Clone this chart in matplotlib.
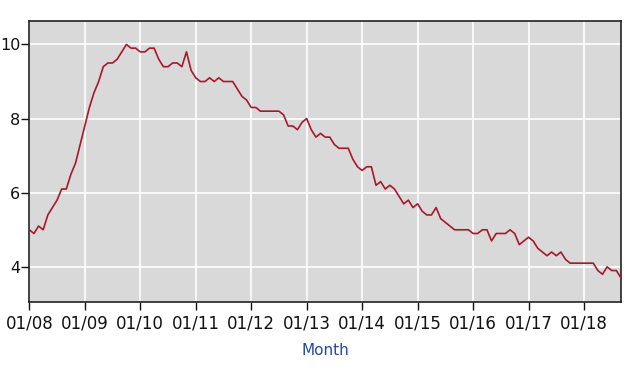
#!/usr/bin/env python3
"""
Unemployment rate, monthly, 01/2008 - 09/2018 (BLS style chart).
"""

import numpy as np
import matplotlib.pyplot as plt

# monthly values, seasonally adjusted (%)
rate_2008 = [5.0, 4.9, 5.1, 5.0, 5.4, 5.6, 5.8, 6.1, 6.1, 6.5, 6.8, 7.3]
rate_2009 = [7.8, 8.3, 8.7, 9.0, 9.4, 9.5, 9.5, 9.6, 9.8, 10.0, 9.9, 9.9]
rate_2010 = [9.8, 9.8, 9.9, 9.9, 9.6, 9.4, 9.4, 9.5, 9.5, 9.4, 9.8, 9.3]
rate_2011 = [9.1, 9.0, 9.0, 9.1, 9.0, 9.1, 9.0, 9.0, 9.0, 8.8, 8.6, 8.5]
rate_2012 = [8.3, 8.3, 8.2, 8.2, 8.2, 8.2, 8.2, 8.1, 7.8, 7.8, 7.7, 7.9]
rate_2013 = [8.0, 7.7, 7.5, 7.6, 7.5, 7.5, 7.3, 7.2, 7.2, 7.2, 6.9, 6.7]
rate_2014 = [6.6, 6.7, 6.7, 6.2, 6.3, 6.1, 6.2, 6.1, 5.9, 5.7, 5.8, 5.6]
rate_2015 = [5.7, 5.5, 5.4, 5.4, 5.6, 5.3, 5.2, 5.1, 5.0, 5.0, 5.0, 5.0]
rate_2016 = [4.9, 4.9, 5.0, 5.0, 4.7, 4.9, 4.9, 4.9, 5.0, 4.9, 4.6, 4.7]
rate_2017 = [4.8, 4.7, 4.5, 4.4, 4.3, 4.4, 4.3, 4.4, 4.2, 4.1, 4.1, 4.1]
rate_2018 = [4.1, 4.1, 4.1, 3.9, 3.8, 4.0, 3.9, 3.9, 3.7]

tick_labels = ["01/08", "01/09", "01/10", "01/11", "01/12", "01/13",
               "01/14", "01/15", "01/16", "01/17", "01/18"]

rates = np.array(rate_2008 + rate_2009 + rate_2010 + rate_2011 + rate_2012 +
                 rate_2013 + rate_2014 + rate_2015 + rate_2016 + rate_2017 +
                 rate_2018)
months = np.arange(len(rates))

fig = plt.figure(figsize=(6.4, 3.7), dpi=100)
ax = fig.add_axes([0.0458, 0.1846, 0.9245, 0.7584])
ax.set_facecolor("#d9d9d9")

ax.plot(months, rates, color="#a8182a", linewidth=1.2, zorder=3)

ax.set_xlim(0, len(rates) - 1)
ax.set_ylim(3.06, 10.63)
ax.set_xticks(np.arange(len(tick_labels)) * 12)
ax.set_xticklabels(tick_labels)
ax.set_yticks([4, 6, 8, 10])

ax.grid(color="white", linewidth=1.2)
ax.set_axisbelow(True)
ax.tick_params(axis="both", direction="out", length=6, width=1.0,
               colors="#111111")
ax.tick_params(axis="x", pad=3, labelsize=12)
ax.tick_params(axis="y", pad=0.5, labelsize=11.5)

for side in ["left", "bottom", "top", "right"]:
    ax.spines[side].set_color("#222222")
    ax.spines[side].set_linewidth(1.2)

ax.set_xlabel("Month", color="#2448a8", fontsize=11, labelpad=8)

plt.savefig("out.png", dpi=100)
plt.close()
